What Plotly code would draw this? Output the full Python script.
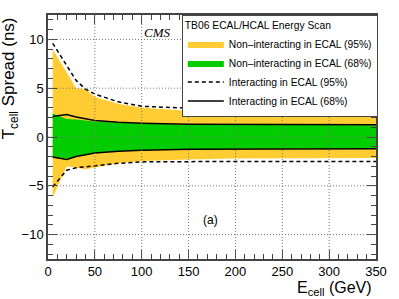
import plotly.graph_objects as go

E = [5, 20, 30, 40, 50, 75, 100, 150, 200, 250, 300, 350]
nonint95_up = [9.0, 6.6, 5.0, 4.9, 4.1, 3.4, 3.0, 2.7, 2.55, 2.5, 2.45, 2.4]
nonint95_lo = [-6.2, -3.0, -3.15, -3.3, -3.1, -2.7, -2.45, -2.3, -2.2, -2.2, -2.15, -2.15]
nonint68_up = [2.4, 1.85, 1.8, 1.7, 1.6, 1.45, 1.35, 1.25, 1.25, 1.22, 1.22, 1.2]
nonint68_lo = [-2.0, -2.2, -2.0, -1.8, -1.65, -1.45, -1.35, -1.25, -1.2, -1.2, -1.15, -1.15]
int95_up = [9.6, 7.3, 5.8, 4.9, 4.4, 3.6, 3.15, 2.95, 2.85, 2.8, 2.75, 2.75]
int95_lo = [-5.1, -3.4, -3.15, -3.05, -2.95, -2.7, -2.55, -2.5, -2.5, -2.5, -2.5, -2.5]
int68_up = [2.1, 2.3, 2.05, 1.85, 1.7, 1.5, 1.4, 1.3, 1.28, 1.25, 1.25, 1.25]
int68_lo = [-2.05, -2.3, -2.0, -1.8, -1.65, -1.45, -1.35, -1.25, -1.22, -1.2, -1.2, -1.2]

x_ticks = [0, 50, 100, 150, 200, 250, 300, 350]
y_ticks = [-10, -5, 0, 5, 10]
y_tick_labels = ["\u221210", "\u22125", "0", "5", "10"]
x_range = [0, 350]
y_range = [-12.5, 12.5]

YELLOW = "#FFCC33"
GREEN = "#00CC00"
FONT = "Liberation Sans, Arial, sans-serif"

fig = go.Figure()
fig.add_trace(go.Scatter(
    x=E + E[::-1], y=nonint95_up + nonint95_lo[::-1],
    fill="toself", fillcolor=YELLOW, mode="lines", line=dict(width=0, color=YELLOW),
    name="Non\u2013interacting in ECAL (95%)"))
fig.add_trace(go.Scatter(
    x=E + E[::-1], y=nonint68_up + nonint68_lo[::-1],
    fill="toself", fillcolor=GREEN, mode="lines", line=dict(width=0, color=GREEN),
    name="Non\u2013interacting in ECAL (68%)"))
fig.add_trace(go.Scatter(
    x=E + [None] + E, y=int95_up + [None] + int95_lo,
    mode="lines", line=dict(color="black", width=1.5, dash="4px,3px"),
    name="Interacting in ECAL (95%)"))
fig.add_trace(go.Scatter(
    x=E + [None] + E, y=int68_up + [None] + int68_lo,
    mode="lines", line=dict(color="black", width=1.5),
    name="Interacting in ECAL (68%)"))

# dotted grid drawn above the bands
for xv in x_ticks[1:-1]:
    fig.add_shape(type="line", xref="x", yref="y", x0=xv, x1=xv, y0=y_range[0], y1=y_range[1],
                  line=dict(color="#777", width=1, dash="1px,2px"), layer="above")
for yv in y_ticks:
    fig.add_shape(type="line", xref="x", yref="y", x0=x_range[0], x1=x_range[1], y0=yv, y1=yv,
                  line=dict(color="#777", width=1, dash="1px,2px"), layer="above")

axis_common = dict(
    showgrid=False, zeroline=False, showline=True, linecolor="#444", linewidth=1.5,
    mirror="allticks", ticks="inside", ticklen=9, tickcolor="#444", tickwidth=1,
    tickfont=dict(family=FONT, size=13, color="black"), layer="above traces",
)
fig.update_xaxes(range=x_range, tickvals=x_ticks,
                 minor=dict(ticks="inside", ticklen=5, dtick=10, tickcolor="#444", showgrid=False),
                 **axis_common)
fig.update_yaxes(range=y_range, tickvals=y_ticks, ticktext=y_tick_labels,
                 minor=dict(ticks="inside", ticklen=5, dtick=1, tickcolor="#444", showgrid=False),
                 **axis_common)

fig.add_annotation(text="T<sub>cell</sub> Spread (ns)", xref="paper", yref="paper",
                   x=-0.115, y=1.0, xanchor="center", yanchor="top", textangle=-90,
                   showarrow=False, font=dict(family=FONT, size=17, color="black"))
fig.add_annotation(text="E<sub>cell</sub> (GeV)", xref="paper", yref="paper",
                   x=0.995, y=-0.075, xanchor="right", yanchor="top",
                   showarrow=False, font=dict(family=FONT, size=16, color="black"))
fig.add_annotation(text="<i>CMS</i>", xref="paper", yref="paper",
                   x=0.333, y=0.93, xanchor="center", yanchor="middle",
                   showarrow=False, font=dict(family="Liberation Serif, Times New Roman, serif", size=13, color="black"))
fig.add_annotation(text="(a)", xref="paper", yref="paper",
                   x=0.495, y=0.16, xanchor="center", yanchor="middle",
                   showarrow=False, font=dict(family=FONT, size=12, color="black"))

fig.update_layout(
    width=399, height=299,
    margin=dict(l=48, r=20, t=15, b=40),
    paper_bgcolor="white", plot_bgcolor="white",
    showlegend=True,
    legend=dict(x=0.408, y=1.0, xanchor="left", yanchor="top",
                bgcolor="white", bordercolor="#444", borderwidth=1,
                font=dict(family=FONT, size=10.3, color="black"),
                title=dict(text="TB06 ECAL/HCAL Energy Scan", font=dict(family=FONT, size=10.3, color="black")),
                itemwidth=36, tracegroupgap=0),
)

fig.write_html("out.html", config={"displayModeBar": False},
               post_script="document.body.style.margin='0';document.body.style.overflow='hidden';")
